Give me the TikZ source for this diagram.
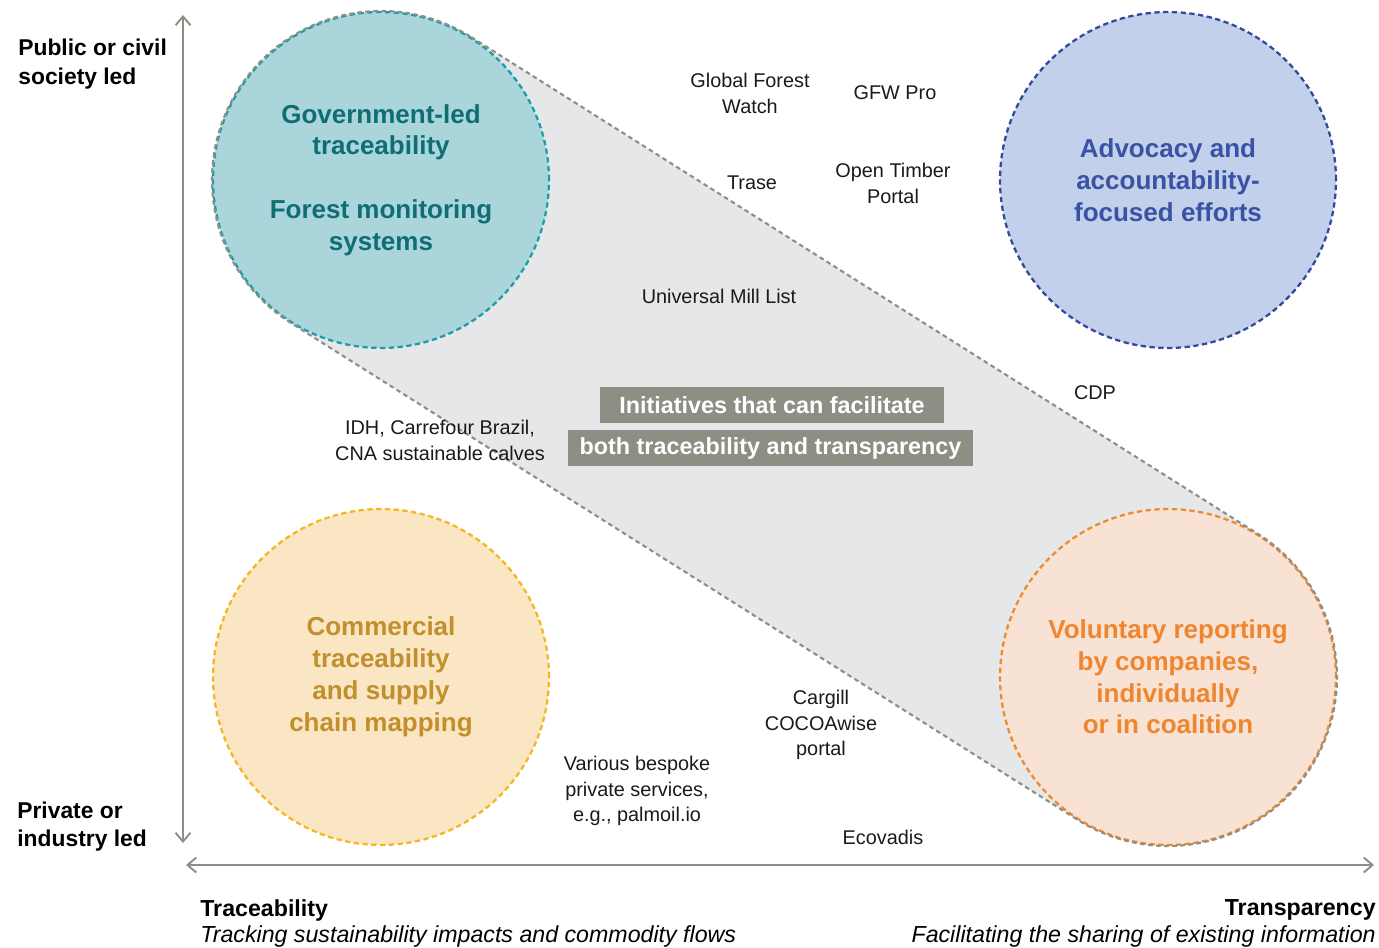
\documentclass[tikz,border=0pt]{standalone}
\usepackage{fontspec}
\setmainfont{Liberation Sans}
\usetikzlibrary{arrows.meta,calc}
\definecolor{tealfill}{HTML}{AAD6DB}
\definecolor{tealline}{HTML}{1B9EA8}
\definecolor{tealtext}{HTML}{0E6E73}
\definecolor{bluefill}{HTML}{C2D0EC}
\definecolor{blueline}{HTML}{34489C}
\definecolor{bluetext}{HTML}{3A52A3}
\definecolor{yelfill}{HTML}{FBE6C4}
\definecolor{yelline}{HTML}{F6B623}
\definecolor{yeltext}{HTML}{C18F2C}
\definecolor{orfill}{HTML}{F8E2D3}
\definecolor{orline}{HTML}{EF8A2D}
\definecolor{ortext}{HTML}{EE8630}
\definecolor{hullfill}{HTML}{E6E7E9}
\definecolor{hullline}{HTML}{8E8E87}
\definecolor{axiscol}{HTML}{8E8E87}
\definecolor{boxfill}{HTML}{8F8E85}
\definecolor{lbltext}{HTML}{1A1A1A}
\begin{document}
\begin{tikzpicture}[x=0.02cm,y=0.02cm,
  zone/.style={circle, minimum size=6.72cm, inner sep=0pt, line width=1.3pt,
    dash pattern=on 3pt off 2pt, align=center,
    font=\fontsize{14.8}{18.1}\selectfont\bfseries},
  lbl/.style={align=center, inner sep=0pt, text=lbltext,
    font=\fontsize{11.3}{14.7}\selectfont},
  axlbl/.style={inner sep=0pt, text=black, font=\fontsize{13}{16.4}\selectfont\bfseries},
  foot/.style={inner sep=0pt, text=black, font=\fontsize{13.2}{15.3}\selectfont},
  hullline/.style={draw=hullline, line width=1.2pt, dash pattern=on 2.6pt off 2pt},
  initbox/.style={fill=boxfill, text=white, inner sep=0pt, minimum height=0.72cm,
    font=\fontsize{13.3}{16}\selectfont\bfseries},
  axis/.style={draw=axiscol, line width=1.1pt,
    {Straight Barb[length=5pt,width=8.5pt]}-{Straight Barb[length=5pt,width=8.5pt]}}
]
\useasboundingbox (0,0) rectangle (1379,947);

% centres
\coordinate (Tc) at (381,767);
\coordinate (Oc) at (1168,270);

% grey band (convex hull)
\fill[hullfill] ($(Tc)+(57.73:169)$) -- ($(Oc)+(57.73:169)$)
  arc[start angle=57.73, end angle=-122.27, radius=169]
  -- ($(Tc)+(237.73:169)$)
  arc[start angle=237.73, end angle=57.73, radius=169] -- cycle;

% circles
\node[zone, fill=tealfill, draw=tealline, text=tealtext] (T) at (381,767)
  {Government-led\\traceability\\[18.1pt]Forest monitoring\\systems};
\node[zone, fill=bluefill, draw=blueline, text=bluetext] (B) at (1168,767)
  {Advocacy and\\accountability-\\focused efforts};
\node[zone, fill=yelfill, draw=yelline, text=yeltext] (Y) at (381,270)
  {Commercial\\traceability\\and supply\\chain mapping};
\node[zone, fill=orfill, draw=orline, text=ortext] (O) at (1168,270)
  {Voluntary reporting\\by companies,\\individually\\or in coalition};

% grey band outline
\path[hullline] ($(T)+(57.73:169)$) -- ($(O)+(57.73:169)$)
  arc[start angle=57.73, end angle=-122.27, radius=169]
  -- ($(T)+(237.73:169)$)
  arc[start angle=237.73, end angle=57.73, radius=169] -- cycle;

% central boxes
\node[initbox, minimum width=6.88cm] (i1) at (772,542) {Initiatives that can facilitate\ };
\node[initbox, minimum width=8.1cm] (i2) at (770.5,499) {both traceability and transparency};

% initiative labels
\node[lbl] (gfw) at (750,854) {Global Forest\\Watch};
\node[lbl] (gfwpro) at (895,854) {GFW Pro};
\node[lbl] (trase) at (752,764) {Trase};
\node[lbl] (otp) at (893,764) {Open Timber\\Portal};
\node[lbl] (uml) at (719,651) {Universal Mill List};
\node[lbl] (cdp) at (1095,554) {CDP};
\node[lbl] (idh) at (440,507) {IDH, Carrefour Brazil,\\CNA sustainable calves};
\node[lbl] (cargill) at (821,222) {Cargill\\COCOAwise\\portal};
\node[lbl] (various) at (637,156) {Various bespoke\\private services,\\e.g., palmoil.io};
\node[lbl] (eco) at (883,110) {Ecovadis};

% axes
\coordinate (ytop) at (183,932);
\coordinate (ybot) at (183,104);
\coordinate (xl) at (186,82);
\coordinate (xr) at (1374,82);
\draw[axis] (ybot) -- (ytop);
\draw[axis] (xl) -- (xr);

% axis labels
\node[axlbl, anchor=west, align=left] (pub) at (18,882.5) {Public or civil\\society led};
\node[axlbl, anchor=west, align=left] (priv) at (17,120.5) {Private or\\industry led};
\node[foot, anchor=west, align=left] (trace) at (200,23.5)
  {\textbf{Traceability}\\\textit{Tracking sustainability impacts and commodity flows}};
\node[foot, anchor=east, align=right] (transp) at (1376,24)
  {\textbf{Transparency}\\\textit{Facilitating the sharing of existing information}};
\end{tikzpicture}
\end{document}
